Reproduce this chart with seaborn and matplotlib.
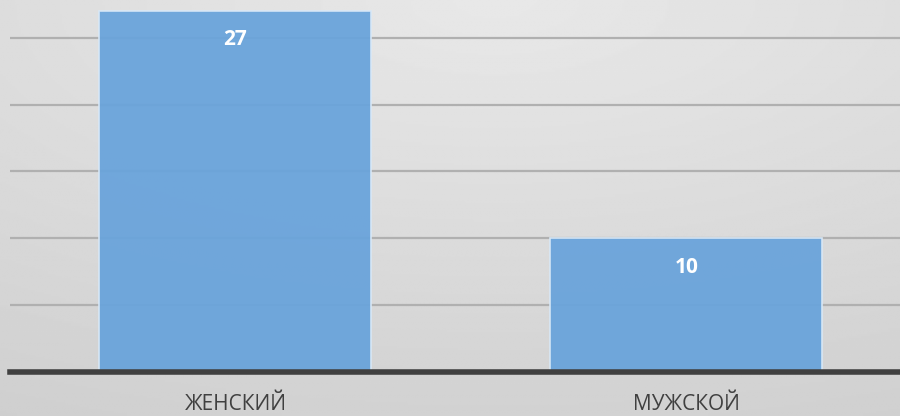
import numpy as np
import pandas as pd
import matplotlib.pyplot as plt
import seaborn as sns

# data
categories = ['ЖЕНСКИЙ', 'МУЖСКОЙ']
counts = [27, 10]

df = pd.DataFrame({'cat': categories, 'n': counts})

sns.set_theme(style='white')
plt.rcParams['font.family'] = ['Open Sans', 'DejaVu Sans']

fig = plt.figure(figsize=(9, 4.16), dpi=100)
# gray gradient background over whole figure
bg = fig.add_axes([0, 0, 1, 1], zorder=-10)
yy, xx = np.mgrid[0:1:200j, 0:1:400j]
r = np.sqrt((xx - 0.55) ** 2 + (yy - 1.0) ** 2 * 1.2)
bg.imshow(0.91 - 0.08 * r, cmap='gray', vmin=0, vmax=1, aspect='auto',
          extent=[0, 1, 0, 1], origin='lower')
bg.axis('off')

ax = fig.add_axes([10 / 900, 44 / 416, 1 - 10 / 900, 372 / 416])
ax.patch.set_alpha(0)

sns.barplot(data=df, x='cat', y='n', color='#6aa4db', alpha=0.95, saturation=1,
            width=0.603, edgecolor='#d8e8f7', linewidth=1.2, ax=ax, zorder=3)

ax.set_xlim(-0.5, 1.474)
ax.set_ylim(0, 27.82)
ax.set_yticks([5, 10, 15, 20, 25])
ax.yaxis.grid(True, color='#b0b0b0', linewidth=1.6, zorder=1)
ax.set_axisbelow(True)
for s in ['top', 'right', 'left']:
    ax.spines[s].set_visible(False)
ax.spines['bottom'].set_color('#404040')
ax.spines['bottom'].set_linewidth(4)
ax.spines['bottom'].set_zorder(5)
ax.tick_params(axis='y', left=False, labelleft=False)
ax.tick_params(axis='x', bottom=False, labelsize=15, labelcolor='#404040', pad=10)
ax.set_xlabel('')
ax.set_ylabel('')

for i, v in enumerate(counts):
    ax.annotate(str(v), (i, v), xytext=(0, -29), textcoords='offset pixels',
                ha='center', va='center', color='white', fontsize=15, fontweight='bold', zorder=6)

fig.savefig('out.png', dpi=100)
